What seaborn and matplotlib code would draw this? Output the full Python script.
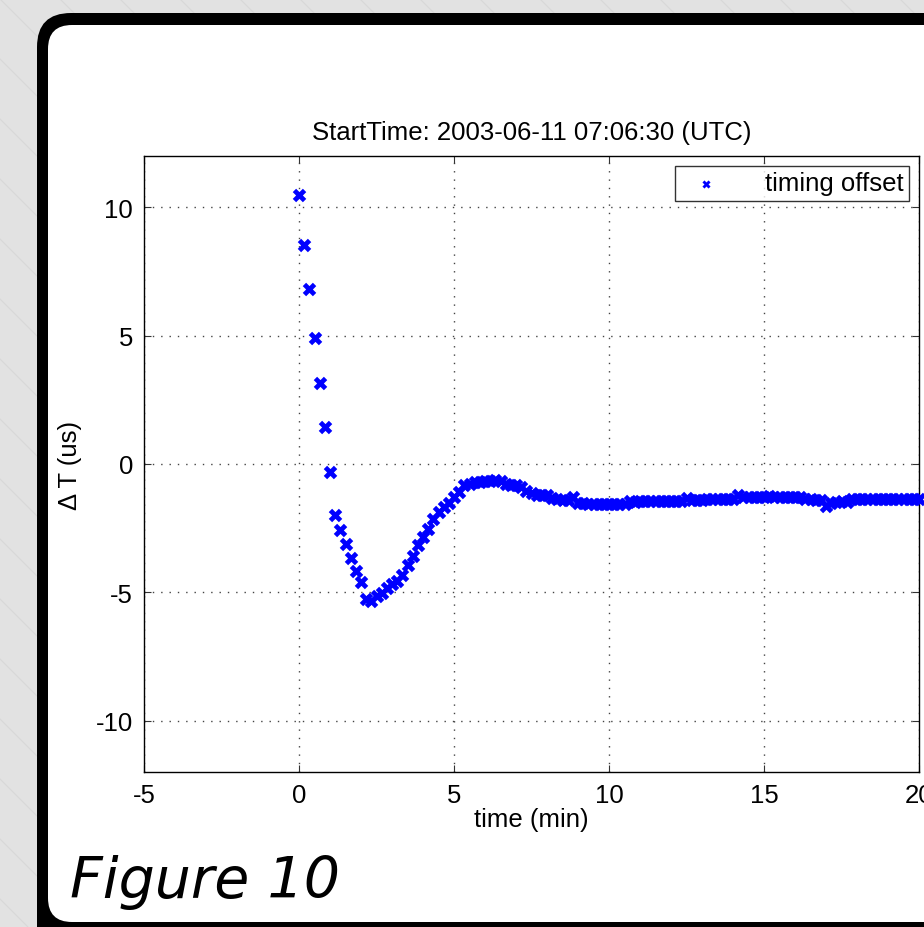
import numpy as np
import pandas as pd
import matplotlib
matplotlib.use("Agg")
import matplotlib.pyplot as plt
from matplotlib.patches import FancyBboxPatch
import seaborn as sns

# Timing offset sampled every 10 seconds after the start time
time_sec = np.arange(0, 1210, 10)
offset_us = [
    10.48, 8.55, 6.81, 4.91, 3.15, 1.43, -0.30, -2.00, -2.57, -3.10,
    -3.66, -4.18, -4.58, -5.25, -5.33, -5.14, -5.01, -4.84, -4.69, -4.54,
    -4.34, -3.92, -3.57, -3.16, -2.84, -2.53, -2.16, -1.86, -1.69, -1.50,
    -1.30, -1.11, -0.82, -0.76, -0.72, -0.69, -0.68, -0.66, -0.64, -0.66,
    -0.78, -0.81, -0.83, -0.89, -1.07, -1.13, -1.21, -1.21, -1.21, -1.34,
    -1.38, -1.41, -1.41, -1.28, -1.50, -1.52, -1.54, -1.55, -1.56, -1.56,
    -1.57, -1.56, -1.56, -1.55, -1.46, -1.47, -1.46, -1.45, -1.45, -1.44,
    -1.44, -1.45, -1.44, -1.45, -1.44, -1.33, -1.40, -1.40, -1.39, -1.38,
    -1.38, -1.37, -1.37, -1.36, -1.37, -1.20, -1.27, -1.28, -1.28, -1.27,
    -1.27, -1.26, -1.27, -1.28, -1.27, -1.28, -1.29, -1.30, -1.37, -1.38,
    -1.39, -1.39, -1.62, -1.50, -1.47, -1.46, -1.47, -1.37, -1.38, -1.37,
    -1.38, -1.37, -1.36, -1.37, -1.38, -1.37, -1.38, -1.37, -1.36, -1.38,
    -1.37,
]
x_ticks = [-5, 0, 5, 10, 15, 20]
y_ticks = [-10, -5, 0, 5, 10]

df = pd.DataFrame({"time (min)": time_sec / 60.0, "offset": offset_us})

sns.set_theme(style="ticks")
plt.rcParams["font.family"] = ["Liberation Sans", "DejaVu Sans"]
plt.rcParams["axes.unicode_minus"] = False
for key in ("text.color", "axes.labelcolor", "xtick.color", "ytick.color",
            "xtick.labelcolor", "ytick.labelcolor"):
    plt.rcParams[key] = "black"

W, H = 924, 928
fig = plt.figure(figsize=(W / 100, H / 100), dpi=100)

# Slide backdrop: grey hatched page with a rounded black-framed white panel
bg = fig.add_axes([0, 0, 1, 1], zorder=0)
bg.set_xlim(0, W)
bg.set_ylim(H, 0)
bg.axis("off")
bg.add_patch(plt.Rectangle((0, 0), W, H, color="#e2e2e2", zorder=0))
for k in range(-20, 40):
    x0 = k * 60
    bg.plot([x0, x0 + H], [0, H], color="#d8d8d8", lw=0.8, zorder=1)
bg.add_patch(FancyBboxPatch((37, 14), 1000, 1000,
                            boxstyle="round,pad=0,rounding_size=34",
                            fc="black", ec="none", zorder=2))
bg.add_patch(FancyBboxPatch((48, 26), 1000, 897,
                            boxstyle="round,pad=0,rounding_size=24",
                            fc="white", ec="none", zorder=3))
bg.text(70, 898, "Figure 10", fontsize=41, style="italic",
        family=["DejaVu Sans"], fontweight="normal",
        va="baseline", ha="left", color="black", zorder=4)

# Main chart
ax = fig.add_axes([144 / W, 1 - 773 / H, (919 - 144) / W, (773 - 157) / H], zorder=1)
ax.set_facecolor("white")
sns.scatterplot(data=df, x="time (min)", y="offset", ax=ax, marker="X", s=95,
                color="#0000ff", linewidth=0, label="timing offset",
                clip_on=False, zorder=5)

ax.set_xlim(-5, 20)
ax.set_ylim(-12, 12)
ax.set_xticks(x_ticks)
ax.set_yticks(y_ticks)
ax.set_xticklabels([str(t) for t in x_ticks])
ax.set_yticklabels([str(t) for t in y_ticks])
ax.tick_params(direction="in", length=5, width=0.8, labelsize=18.5,
               top=True, right=True, pad=8, color="#333333")
ax.grid(True, linestyle=(0, (1, 5)), color="#444444", lw=1.0)
for sp in ax.spines.values():
    sp.set_visible(True)
    sp.set_color("black")
    sp.set_linewidth(1.0)

ax.set_xlabel("time (min)", fontsize=18.5, labelpad=0)
ax.set_ylabel("Δ T (us)", fontsize=18.5, labelpad=10)
ax.set_title("StartTime: 2003-06-11 07:06:30 (UTC)", fontsize=18.5, pad=12)

leg = ax.legend(loc="upper right", fontsize=18.5, frameon=True, fancybox=False,
                markerscale=0.6, borderpad=0.2, handletextpad=1.3,
                borderaxespad=0.4, handlelength=2.0)
leg.get_frame().set_edgecolor("black")
leg.get_frame().set_linewidth(1.0)

fig.savefig("out.png", dpi=100)
